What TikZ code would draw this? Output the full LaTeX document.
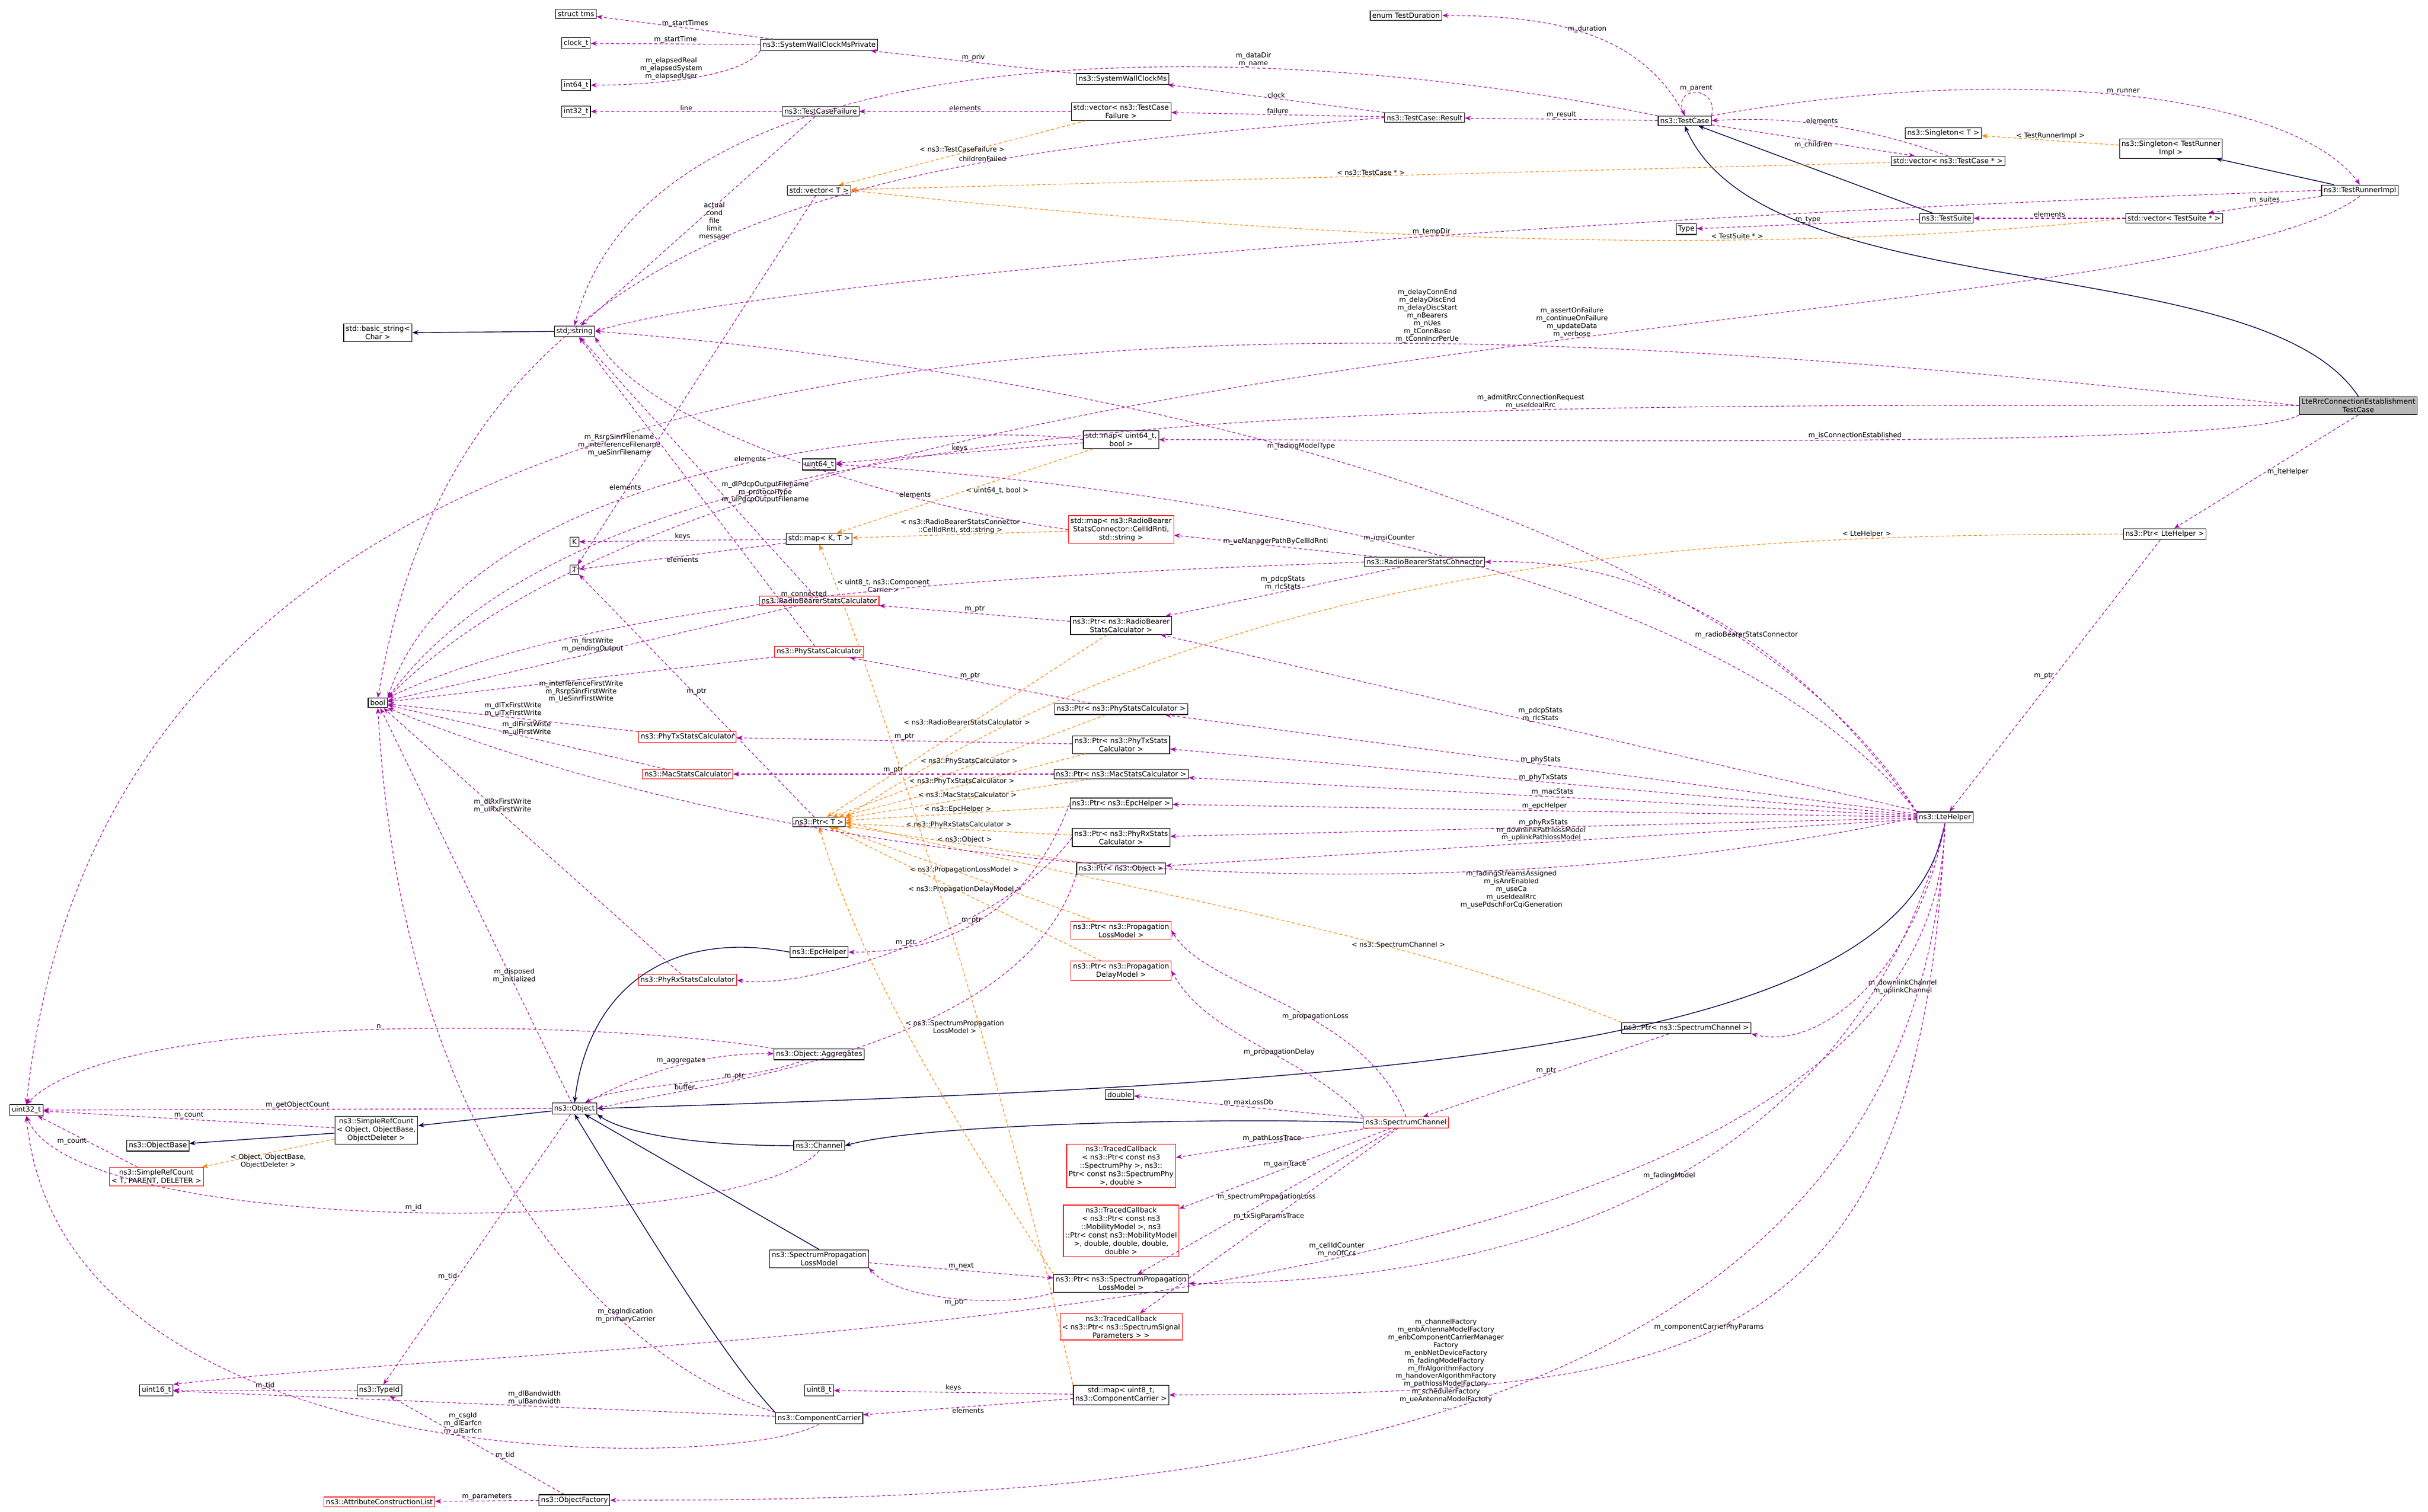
\documentclass[tikz,border=0pt]{standalone}
\usepackage{fontspec}
\setmainfont{DejaVu Sans}
\usetikzlibrary{arrows.meta}

\tikzset{
  cls/.style={draw, fill=white, inner sep=1.3pt, align=center, font=\fontsize{4.6}{5.4}\selectfont},
  redcls/.style={cls, draw=red},
  use/.style={draw=violet!70!magenta, dashed, dash pattern=on 2pt off 1.5pt, -{Stealth[length=4pt,width=3pt]}, line width=0.4pt},
  inh/.style={draw=blue!30!black, -{Stealth[length=4pt,width=3pt]}, line width=0.5pt},
  tpl/.style={draw=orange, dashed, dash pattern=on 2pt off 1.5pt, -{Stealth[length=4pt,width=3pt]}, line width=0.4pt},
  lbl/.style={font=\fontsize{4.4}{5}\selectfont, align=center, inner sep=0.5pt}
}

\begin{document}
\begin{tikzpicture}[x=1pt,y=-1pt]
\useasboundingbox (0,0) rectangle (1568,976.6);

% classes, left column
\node[cls] (uintthirtytwo) at (17,717) {uint32\_t};
\node[cls] (uintsixteen) at (101,898) {uint16\_t};
\node[cls] (objbase) at (102,740) {ns3::ObjectBase};
\node[redcls] (srctpl) at (101,760) {ns3::SimpleRefCount\\< T, PARENT, DELETER >};
\node[cls] (basicstr) at (244,215) {std::basic\_string<\\Char >};
\node[cls] (bool) at (244,454) {bool};
\node[cls] (srcobj) at (243,730) {ns3::SimpleRefCount\\< Object, ObjectBase,\\ObjectDeleter >};
\node[cls] (typeid) at (245,898) {ns3::TypeId};
\node[redcls] (attrlist) at (245,970) {ns3::AttributeConstructionList};

% second column
\node[cls] (tms) at (372,9) {struct tms};
\node[cls] (clockt) at (372,28) {clock\_t};
\node[cls] (intsixfour) at (372,55) {int64\_t};
\node[cls] (intthirtytwo) at (372,72) {int32\_t};
\node[cls] (stdstring) at (371,214) {std::string};
\node[cls] (kk) at (371,350) {K};
\node[cls] (tt) at (371,368) {T};
\node[cls] (object) at (371,716) {ns3::Object};
\node[cls] (objfactory) at (371,969) {ns3::ObjectFactory};
\node[redcls] (phytxcalc) at (444,476) {ns3::PhyTxStatsCalculator};
\node[redcls] (maccalc) at (444,500) {ns3::MacStatsCalculator};
\node[redcls] (phyrxcalc) at (444,633) {ns3::PhyRxStatsCalculator};

% third column
\node[cls] (swcmpriv) at (529,29) {ns3::SystemWallClockMsPrivate};
\node[cls] (tcfailure) at (530,72) {ns3::TestCaseFailure};
\node[cls] (vectpl) at (529,123) {std::vector< T >};
\node[cls] (uintsixfour) at (529,300) {uint64\_t};
\node[cls] (maptpl) at (529,348) {std::map< K, T >};
\node[redcls] (rbcalc) at (529,388) {ns3::RadioBearerStatsCalculator};
\node[redcls] (phycalc) at (529,421) {ns3::PhyStatsCalculator};
\node[cls] (ptrtpl) at (529,531) {ns3::Ptr< T >};
\node[cls] (epchelper) at (529,615) {ns3::EpcHelper};
\node[cls] (aggregates) at (529,681) {ns3::Object::Aggregates};
\node[cls] (channel) at (529,740) {ns3::Channel};
\node[cls] (splm) at (529,813) {ns3::SpectrumPropagation\\LossModel};
\node[cls] (uinteight) at (529,898) {uint8\_t};
\node[cls] (compcarrier) at (529,916) {ns3::ComponentCarrier};

% fourth column
\node[cls] (swcm) at (725,51) {ns3::SystemWallClockMs};
\node[cls] (vecfailure) at (724,72) {std::vector< ns3::TestCase\\Failure >};
\node[cls] (mapimsi) at (724,284) {std::map< uint64\_t,\\bool >};
\node[redcls] (maprb) at (724,342) {std::map< ns3::RadioBearer\\StatsConnector::CellIdRnti,\\std::string >};
\node[cls] (ptrrbcalc) at (724,404) {ns3::Ptr< ns3::RadioBearer\\StatsCalculator >};
\node[cls] (ptrphycalc) at (724,458) {ns3::Ptr< ns3::PhyStatsCalculator >};
\node[cls] (ptrphytx) at (724,481) {ns3::Ptr< ns3::PhyTxStats\\Calculator >};
\node[cls] (ptrmac) at (724,500) {ns3::Ptr< ns3::MacStatsCalculator >};
\node[cls] (ptrepc) at (724,519) {ns3::Ptr< ns3::EpcHelper >};
\node[cls] (ptrphyrx) at (724,541) {ns3::Ptr< ns3::PhyRxStats\\Calculator >};
\node[cls] (ptrobject) at (724,561) {ns3::Ptr< ns3::Object >};
\node[redcls] (ptrploss) at (724,601) {ns3::Ptr< ns3::Propagation\\LossModel >};
\node[redcls] (ptrpdelay) at (724,627) {ns3::Ptr< ns3::Propagation\\DelayModel >};
\node[cls] (double) at (723,707) {double};
\node[redcls] (tcbpath) at (724,753) {ns3::TracedCallback\\< ns3::Ptr< const ns3\\::SpectrumPhy >, ns3::\\Ptr< const ns3::SpectrumPhy\\>, double >};
\node[redcls] (tcbgain) at (724,795) {ns3::TracedCallback\\< ns3::Ptr< const ns3\\::MobilityModel >, ns3\\::Ptr< const ns3::MobilityModel\\>, double, double, double,\\double >};
\node[cls] (ptrsplm) at (724,829) {ns3::Ptr< ns3::SpectrumPropagation\\LossModel >};
\node[redcls] (tcbtxsig) at (724,857) {ns3::TracedCallback\\< ns3::Ptr< ns3::SpectrumSignal\\Parameters > >};
\node[cls] (mapcc) at (724,901) {std::map< uint8\_t,\\ns3::ComponentCarrier >};

% right part
\node[cls] (tduration) at (908,10) {enum TestDuration};
\node[cls] (tcresult) at (920,76) {ns3::TestCase::Result};
\node[cls] (rbconnector) at (920,363) {ns3::RadioBearerStatsConnector};
\node[redcls] (specchannel) at (908,725) {ns3::SpectrumChannel};
\node[cls] (testcase) at (1088,78) {ns3::TestCase};
\node[cls] (typenode) at (1089,148) {Type};
\node[cls] (ptrspec) at (1089,664) {ns3::Ptr< ns3::SpectrumChannel >};
\node[cls] (singtpl) at (1255,86) {ns3::Singleton< T >};
\node[cls] (vectc) at (1258,104) {std::vector< ns3::TestCase * >};
\node[cls] (testsuite) at (1257,141) {ns3::TestSuite};
\node[cls] (ltehelper) at (1256,528) {ns3::LteHelper};
\node[cls] (ptrlte) at (1398,345) {ns3::Ptr< LteHelper >};
\node[cls] (singtri) at (1402,96) {ns3::Singleton< TestRunner\\Impl >};
\node[cls] (vects) at (1404,141) {std::vector< TestSuite * >};
\node[cls] (runner) at (1524,123) {ns3::TestRunnerImpl};
\node[cls, fill=gray!55] (lterrc) at (1523,262) {LteRrcConnectionEstablishment\\TestCase};

% inheritance
\draw[inh] (stdstring) -- (basicstr);
\draw[inh] (testsuite) -- (testcase);
\draw[inh] (lterrc.north) .. controls (1460,160) and (1140,200) .. (testcase.south);
\draw[inh] (runner) -- (singtri);
\draw[inh] (ltehelper.south) .. controls (1230,680) and (900,700) .. (object.east);
\draw[inh] (specchannel.west) .. controls (800,722) and (600,725) .. (channel.east);
\draw[inh] (channel.west) .. controls (440,740) and (400,730) .. (object.south east);
\draw[inh] (epchelper.west) .. controls (430,600) and (380,640) .. (object.north);
\draw[inh] (splm.north) -- (object);
\draw[inh] (compcarrier.north west) .. controls (470,880) and (420,800) .. (object.south);
\draw[inh] (object) -- (srcobj);
\draw[inh] (srcobj) -- (objbase);

% template instances
\draw[tpl] (vecfailure) -- node[lbl, above]{< ns3::TestCaseFailure >} (vectpl);
\draw[tpl] (vectc) -- node[lbl, above]{< ns3::TestCase * >} (vectpl);
\draw[tpl] (vects.west) .. controls (1100,170) and (800,150) .. node[lbl, above, pos=0.3]{< TestSuite * >} (vectpl.east);
\draw[tpl] (singtri) -- node[lbl, above]{< TestRunnerImpl >} (singtpl);
\draw[tpl] (mapimsi) -- node[lbl, right]{< uint64\_t, bool >} (maptpl);
\draw[tpl] (maprb) -- node[lbl, above]{< ns3::RadioBearerStatsConnector\\::CellIdRnti, std::string >} (maptpl);
\draw[tpl] (mapcc.north west) .. controls (650,700) and (560,420) .. node[lbl, pos=0.9, right]{< uint8\_t, ns3::Component\\Carrier >} (maptpl.south);
\draw[tpl] (ptrlte.west) .. controls (1100,345) and (800,360) .. node[lbl, above, pos=0.2]{< LteHelper >} (ptrtpl.north east);
\draw[tpl] (ptrrbcalc) -- node[lbl, above]{< ns3::RadioBearerStatsCalculator >} (ptrtpl);
\draw[tpl] (ptrphycalc) -- node[lbl, above]{< ns3::PhyStatsCalculator >} (ptrtpl);
\draw[tpl] (ptrphytx) -- node[lbl, above]{< ns3::PhyTxStatsCalculator >} (ptrtpl);
\draw[tpl] (ptrmac) -- node[lbl, above]{< ns3::MacStatsCalculator >} (ptrtpl);
\draw[tpl] (ptrepc) -- node[lbl, above]{< ns3::EpcHelper >} (ptrtpl);
\draw[tpl] (ptrphyrx) -- node[lbl, above]{< ns3::PhyRxStatsCalculator >} (ptrtpl);
\draw[tpl] (ptrobject) -- node[lbl, above]{< ns3::Object >} (ptrtpl);
\draw[tpl] (ptrploss) -- node[lbl, above]{< ns3::PropagationLossModel >} (ptrtpl);
\draw[tpl] (ptrpdelay) -- node[lbl, above]{< ns3::PropagationDelayModel >} (ptrtpl);
\draw[tpl] (ptrspec.north west) .. controls (900,600) and (700,570) .. node[lbl, above, pos=0.3]{< ns3::SpectrumChannel >} (ptrtpl.east);
\draw[tpl] (ptrsplm.north west) .. controls (640,760) and (560,640) .. node[lbl, pos=0.6, right]{< ns3::SpectrumPropagation\\LossModel >} (ptrtpl.south);
\draw[tpl] (srcobj) -- node[lbl, below]{< Object, ObjectBase,\\ObjectDeleter >} (srctpl);

% test framework members
\draw[use] (swcmpriv) -- node[lbl, above]{m\_startTimes} (tms);
\draw[use] (swcmpriv) -- node[lbl, above]{m\_startTime} (clockt);
\draw[use] (swcmpriv.south west) .. controls (480,50) and (420,55) .. node[lbl, above, pos=0.6]{m\_elapsedReal\\m\_elapsedSystem\\m\_elapsedUser} (intsixfour.east);
\draw[use] (swcm) -- node[lbl, above]{m\_priv} (swcmpriv);
\draw[use] (tcfailure) -- node[lbl, above]{line} (intthirtytwo);
\draw[use] (tcfailure) -- node[lbl, right]{actual\\cond\\file\\limit\\message} (stdstring);
\draw[use] (vecfailure) -- node[lbl, above]{elements} (tcfailure);
\draw[use] (tcresult) -- node[lbl, above]{clock} (swcm);
\draw[use] (tcresult) -- node[lbl, above]{failure} (vecfailure);
\draw[use] (tcresult.west) .. controls (600,100) and (300,120) .. node[lbl, above, pos=0.3]{childrenFailed} (bool.north);
\draw[use] (testcase) -- node[lbl, above]{m\_result} (tcresult);
\draw[use] (testcase.north west) .. controls (800,20) and (420,20) .. node[lbl, above, pos=0.3]{m\_dataDir\\m\_name} (stdstring.north);
\draw[use] (testcase.north) .. controls (1060,20) and (1000,10) .. node[lbl, above, pos=0.5]{m\_duration} (tduration.east);
\draw[use] (testcase.north east) .. controls (1110,55) and (1080,55) .. node[lbl, above]{m\_parent} (testcase.north);
\draw[use] (testcase) -- node[lbl, below]{m\_children} (vectc);
\draw[use] (vectc.north) .. controls (1200,80) and (1150,75) .. node[lbl, above]{elements} (testcase.east);
\draw[use] (testcase.north east) .. controls (1300,40) and (1480,60) .. node[lbl, above, pos=0.5]{m\_runner} (runner.north);
\draw[use] (runner) -- node[lbl, above]{m\_suites} (vects);
\draw[use] (vects) -- node[lbl, above]{elements} (testsuite);
\draw[use] (testsuite) -- node[lbl, above]{m\_type} (typenode);
\draw[use] (runner.west) .. controls (1000,140) and (500,180) .. node[lbl, above, pos=0.4]{m\_tempDir} (stdstring.east);
\draw[use] (runner.south) .. controls (1400,220) and (500,200) .. node[lbl, above, pos=0.45]{m\_assertOnFailure\\m\_continueOnFailure\\m\_updateData\\m\_verbose} (bool.north east);

% test case members
\draw[use] (lterrc.west) .. controls (900,200) and (80,130) .. node[lbl, above, pos=0.3]{m\_delayConnEnd\\m\_delayDiscEnd\\m\_delayDiscStart\\m\_nBearers\\m\_nUes\\m\_tConnBase\\m\_tConnIncrPerUe} (uintthirtytwo.north);
\draw[use] (lterrc.west) .. controls (900,262) and (400,250) .. node[lbl, above, pos=0.3]{m\_admitRrcConnectionRequest\\m\_useIdealRrc} (bool.north east);
\draw[use] (lterrc.south west) .. controls (1450,290) and (1000,284) .. node[lbl, above, pos=0.5]{m\_isConnectionEstablished} (mapimsi.east);
\draw[use] (lterrc.south) -- node[lbl, right]{m\_lteHelper} (ptrlte);
\draw[use] (ptrlte) -- node[lbl, left]{m\_ptr} (ltehelper);

% containers
\draw[use] (vectpl) -- node[lbl, above, pos=0.8]{elements} (tt);
\draw[use] (mapimsi) -- node[lbl, above]{keys} (uintsixfour);
\draw[use] (mapimsi.west) .. controls (600,270) and (300,300) .. node[lbl, above, pos=0.45]{elements} (bool.north east);
\draw[use] (maprb.west) .. controls (600,330) and (420,280) .. node[lbl, above, pos=0.3]{elements} (stdstring.south east);
\draw[use] (maptpl) -- node[lbl, above]{keys} (kk);
\draw[use] (maptpl) -- node[lbl, below]{elements} (tt);
\draw[use] (rbconnector) -- node[lbl, above]{m\_ueManagerPathByCellIdRnti} (maprb);
\draw[use] (rbconnector.west) .. controls (700,370) and (400,380) .. node[lbl, above, pos=0.55]{m\_connected} (bool.north east);
\draw[use] (rbconnector) -- node[lbl, above]{m\_pdcpStats\\m\_rlcStats} (ptrrbcalc);

% stats calculators
\draw[use] (ptrrbcalc) -- node[lbl, above]{m\_ptr} (rbcalc);
\draw[use] (rbcalc) -- node[lbl, right, pos=0.4]{m\_dlPdcpOutputFilename\\m\_protocolType\\m\_ulPdcpOutputFilename} (stdstring);
\draw[use] (rbcalc) -- node[lbl, above]{m\_firstWrite\\m\_pendingOutput} (bool);
\draw[use] (ptrphycalc) -- node[lbl, above]{m\_ptr} (phycalc);
\draw[use] (phycalc) -- node[lbl, left, pos=0.65]{m\_RsrpSinrFilename\\m\_interferenceFilename\\m\_ueSinrFilename} (stdstring);
\draw[use] (phycalc) -- node[lbl, below]{m\_interferenceFirstWrite\\m\_RsrpSinrFirstWrite\\m\_UeSinrFirstWrite} (bool);
\draw[use] (ptrphytx) -- node[lbl, above]{m\_ptr} (phytxcalc);
\draw[use] (phytxcalc) -- node[lbl, above]{m\_dlTxFirstWrite\\m\_ulTxFirstWrite} (bool);
\draw[use] (ptrmac) -- node[lbl, above]{m\_ptr} (maccalc);
\draw[use] (maccalc) -- node[lbl, above]{m\_dlFirstWrite\\m\_ulFirstWrite} (bool);
\draw[use] (ptrphyrx.west) .. controls (650,600) and (520,640) .. node[lbl, above, pos=0.5]{m\_ptr} (phyrxcalc.east);
\draw[use] (phyrxcalc) -- node[lbl, above, pos=0.6]{m\_dlRxFirstWrite\\m\_ulRxFirstWrite} (bool);
\draw[use] (ptrtpl) -- node[lbl, above]{m\_ptr} (tt);
\draw[use] (ptrepc.west) .. controls (660,600) and (600,615) .. node[lbl, above]{m\_ptr} (epchelper.east);
\draw[use] (ptrobject.south west) .. controls (660,680) and (450,700) .. node[lbl, above, pos=0.7]{m\_ptr} (object.east);

% lte helper members
\draw[use] (ltehelper.north west) .. controls (1100,300) and (600,230) .. node[lbl, above, pos=0.5]{m\_fadingModelType} (stdstring.east);
\draw[use] (ltehelper.north west) .. controls (1100,350) and (700,310) .. node[lbl, above, pos=0.5]{m\_imsiCounter} (uintsixfour.east);
\draw[use] (ltehelper.north west) .. controls (1150,400) and (1050,360) .. node[lbl, above, pos=0.4]{m\_radioBearerStatsConnector} (rbconnector.east);
\draw[use] (ltehelper) -- node[lbl, above]{m\_pdcpStats\\m\_rlcStats} (ptrrbcalc);
\draw[use] (ltehelper) -- node[lbl, above]{m\_phyStats} (ptrphycalc);
\draw[use] (ltehelper) -- node[lbl, above]{m\_phyTxStats} (ptrphytx);
\draw[use] (ltehelper) -- node[lbl, above]{m\_macStats} (ptrmac);
\draw[use] (ltehelper) -- node[lbl, above]{m\_epcHelper} (ptrepc);
\draw[use] (ltehelper) -- node[lbl, above]{m\_phyRxStats} (ptrphyrx);
\draw[use] (ltehelper) -- node[lbl, above]{m\_downlinkPathlossModel\\m\_uplinkPathlossModel} (ptrobject);
\draw[use] (ltehelper.west) .. controls (900,600) and (500,560) .. node[lbl, pos=0.25, below]{m\_fadingStreamsAssigned\\m\_isAnrEnabled\\m\_useCa\\m\_useIdealRrc\\m\_usePdschForCqiGeneration} (bool.south east);
\draw[use] (ltehelper.south) .. controls (1240,620) and (1180,680) .. node[lbl, right, pos=0.5]{m\_downlinkChannel\\m\_uplinkChannel} (ptrspec.south east);
\draw[use] (ltehelper.south) .. controls (1200,750) and (1000,829) .. node[lbl, above, pos=0.5]{m\_fadingModel} (ptrsplm.east);
\draw[use] (ltehelper.south) .. controls (1250,870) and (400,860) .. node[lbl, above, pos=0.45]{m\_cellIdCounter\\m\_noOfCcs} (uintsixteen.north east);
\draw[use] (ltehelper.south) .. controls (1240,880) and (1100,901) .. node[lbl, above, pos=0.55]{m\_componentCarrierPhyParams} (mapcc.east);
\draw[use] (ltehelper.south) .. controls (1240,960) and (700,969) .. node[lbl, above, pos=0.5]{m\_channelFactory\\m\_enbAntennaModelFactory\\m\_enbComponentCarrierManager\\Factory\\m\_enbNetDeviceFactory\\m\_fadingModelFactory\\m\_ffrAlgorithmFactory\\m\_handoverAlgorithmFactory\\m\_pathlossModelFactory\\m\_schedulerFactory\\m\_ueAntennaModelFactory\\...} (objfactory.east);

% spectrum channel members
\draw[use] (ptrspec) -- node[lbl, above]{m\_ptr} (specchannel);
\draw[use] (specchannel.north) .. controls (880,650) and (780,640) .. node[lbl, above, pos=0.4]{m\_propagationLoss} (ptrploss.east);
\draw[use] (specchannel.north west) .. controls (840,680) and (780,670) .. node[lbl, above, pos=0.4]{m\_propagationDelay} (ptrpdelay.east);
\draw[use] (specchannel) -- node[lbl, above]{m\_maxLossDb} (double);
\draw[use] (specchannel) -- node[lbl, above]{m\_pathLossTrace} (tcbpath);
\draw[use] (specchannel) -- node[lbl, above]{m\_gainTrace} (tcbgain);
\draw[use] (specchannel) -- node[lbl, above]{m\_spectrumPropagationLoss} (ptrsplm);
\draw[use] (specchannel) -- node[lbl, above]{m\_txSigParamsTrace} (tcbtxsig);
\draw[use] (splm) -- node[lbl, above]{m\_next} (ptrsplm);
\draw[use] (ptrsplm.south west) .. controls (650,845) and (580,840) .. node[lbl, below]{m\_ptr} (splm.south east);

% object members
\draw[use] (object) -- node[lbl, above, pos=0.3]{m\_disposed\\m\_initialized} (bool);
\draw[use] (object) .. controls (420,690) and (460,680) .. node[lbl, above]{m\_aggregates} (aggregates);
\draw[use] (aggregates) .. controls (480,700) and (400,700) .. node[lbl, below]{buffer} (object);
\draw[use] (aggregates.north west) .. controls (400,660) and (80,650) .. node[lbl, above]{n} (uintthirtytwo.north);
\draw[use] (object) -- node[lbl, above]{m\_getObjectCount} (uintthirtytwo);
\draw[use] (srcobj) -- node[lbl, above]{m\_count} (uintthirtytwo);
\draw[use] (srctpl) -- node[lbl, left]{m\_count} (uintthirtytwo);
\draw[use] (channel.south) .. controls (480,800) and (50,800) .. node[lbl, above]{m\_id} (uintthirtytwo.south);
\draw[use] (object) -- node[lbl, left, pos=0.6]{m\_tid} (typeid);
\draw[use] (typeid) -- node[lbl, above]{m\_tid} (uintsixteen);
\draw[use] (compcarrier.north west) .. controls (400,880) and (260,750) .. node[lbl, above, pos=0.3]{m\_csgIndication\\m\_primaryCarrier} (bool.south);
\draw[use] (compcarrier) -- node[lbl, above, pos=0.4]{m\_dlBandwidth\\m\_ulBandwidth} (uintsixteen);
\draw[use] (compcarrier.south) .. controls (480,950) and (40,960) .. node[lbl, above, pos=0.45]{m\_csgId\\m\_dlEarfcn\\m\_ulEarfcn} (uintthirtytwo.south);
\draw[use] (mapcc) -- node[lbl, above]{keys} (uinteight);
\draw[use] (mapcc) -- node[lbl, below]{elements} (compcarrier);
\draw[use] (objfactory) -- node[lbl, right, pos=0.4]{m\_tid} (typeid);
\draw[use] (objfactory) -- node[lbl, above]{m\_parameters} (attrlist);
\end{tikzpicture}
\end{document}
